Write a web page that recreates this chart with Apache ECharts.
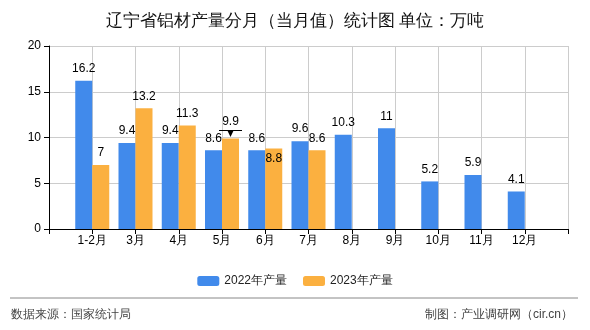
<!DOCTYPE html>
<html><head><meta charset="utf-8">
<script src="https://cdn.jsdelivr.net/npm/echarts@6/dist/echarts.min.js"></script>
<style>html,body{margin:0;padding:0;background:#fff}#c{width:590px;height:330px}</style>
</head><body><div id="c"></div>
<script>
var categories = ['1-2月','3月','4月','5月','6月','7月','8月','9月','10月','11月','12月'];
var values2022 = [16.2, 9.4, 9.4, 8.6, 8.6, 9.6, 10.3, 11, 5.2, 5.9, 4.1];
var values2023 = [7, 13.2, 11.3, 9.9, 8.8, 8.6];
var yTicks = [0, 5, 10, 15, 20];
var seriesNames = ['2022年产量', '2023年产量'];

var chart = echarts.init(document.getElementById('c'), null, {renderer: 'canvas'});
var xData = [''].concat(categories).concat(['']);
function pad(arr) {
  var out = [null];
  for (var i = 0; i < categories.length; i++) out.push(i < arr.length ? arr[i] : null);
  out.push(null);
  return out;
}
var d2022 = pad(values2022);
var d2023 = pad(values2023).map(function (v, i) {
  if (v === null) return null;
  if (i === 5) return {value: v, label: {position: 'insideTop', distance: 4}};
  if (i === 4) return {value: v, label: {distance: 11}};
  return v;
});
var font = 'sans-serif';
chart.setOption({
  animation: false,
  title: {
    text: '辽宁省铝材产量分月（当月值）统计图 单位：万吨',
    left: 'center', top: 8,
    textStyle: {fontSize: 17, fontWeight: 'normal', color: '#111', fontFamily: font}
  },
  legend: {
    data: seriesNames, top: 270, left: 'center',
    itemWidth: 22, itemHeight: 10, itemGap: 16,
    textStyle: {fontSize: 12, color: '#222', fontFamily: font}
  },
  grid: {left: 49, right: 22, top: 46, bottom: 101, containLabel: false},
  xAxis: {
    type: 'category', data: xData, boundaryGap: false,
    axisLine: {lineStyle: {color: '#000', width: 1}},
    axisTick: {show: true, interval: 0, length: 5, lineStyle: {color: '#000'}},
    axisLabel: {interval: 0, color: '#000', fontSize: 12, margin: 6, fontFamily: font},
    splitLine: {show: true, interval: 0, lineStyle: {color: '#ccc'}}
  },
  yAxis: {
    type: 'value', min: yTicks[0], max: yTicks[yTicks.length - 1], interval: 5,
    axisLine: {show: true, lineStyle: {color: '#000'}},
    axisTick: {show: true, length: 5, lineStyle: {color: '#000'}},
    axisLabel: {color: '#000', fontSize: 12, margin: 8, fontFamily: font},
    splitLine: {show: true, lineStyle: {color: '#ccc'}}
  },
  series: [
    {
      name: seriesNames[0], type: 'bar', data: d2022, barWidth: 17, barGap: '0%',
      itemStyle: {color: '#418aeb'},
      label: {show: true, position: 'top', distance: 6, color: '#000', fontSize: 12, fontFamily: font}
    },
    {
      name: seriesNames[1], type: 'bar', data: d2023, barWidth: 17, barGap: '0%',
      itemStyle: {color: '#fbb040'},
      label: {show: true, position: 'top', distance: 6, color: '#000', fontSize: 12, fontFamily: font},
      markPoint: {
        silent: true,
        symbol: 'path://M0,0 L24,0 L24,1 L0,1 Z M9,1 L15,1 L12,7 Z',
        symbolSize: [23, 7],
        symbolKeepAspect: false,
        itemStyle: {color: '#000'},
        label: {show: false},
        data: [{coord: [4, values2023[3]], symbolOffset: [0, -5]}]
      }
    }
  ],
  graphic: [
    {type: 'line', shape: {x1: 10, y1: 298, x2: 578, y2: 298}, style: {stroke: '#888', lineWidth: 1}},
    {type: 'text', left: 11, top: 309, style: {text: '数据来源：国家统计局', fontSize: 12, fill: '#444', fontFamily: font}},
    {type: 'text', right: 17, top: 309, style: {text: '制图：产业调研网（cir.cn）', fontSize: 12, fill: '#444', fontFamily: font}}
  ]
});
</script></body></html>
